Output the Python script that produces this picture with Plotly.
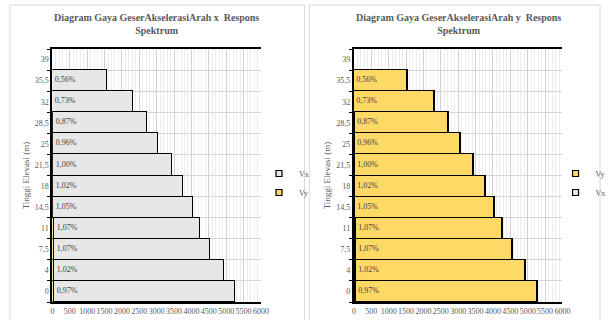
import plotly.graph_objects as go

# Storey elevations (m), bottom to top
elev = ["0", "4", "7,5", "11", "14,5", "18", "21,5", "25", "28,5", "32", "35,5", "39"]

# Response-spectrum storey shear (kN), x-direction earthquake
vx_dir_x = [5200, 4895, 4505, 4225, 4010, 3745, 3415, 3020, 2715, 2320, 1585, None]
vy_dir_x = [60, 55, 50, 45, 40, 35, 25, 20, 15, 10, 5, 0]

# Response-spectrum storey shear (kN), y-direction earthquake
vy_dir_y = [5240, 4905, 4530, 4245, 4020, 3755, 3415, 3050, 2715, 2320, 1560, None]
vx_dir_y = [60, 55, 50, 45, 40, 35, 25, 20, 15, 10, 5, 0]

# Storey drift ratio labels
ratio = ["0,97%", "1,02%", "1,07%", "1,07%", "1,05%", "1,02%",
         "1,00%", "0,96%", "0,87%", "0,73%", "0,56%", ""]

x_ticks = list(range(0, 6001, 500))

SERIF = "Liberation Serif"
GREY_TXT = "#595959"
GOLD = "#FFD966"
LIGHT = "#E7E7E7"
EDGE = dict(color="#000000", width=1.4)

fig = go.Figure()


def add_bar(x_vals, colour, xa, ya, labels=None):
    kw = {}
    if labels is not None:
        kw = dict(text=labels, textposition="inside", insidetextanchor="start",
                  constraintext="none", textangle=0,
                  textfont=dict(family=SERIF, size=8, color="#404040"))
    fig.add_trace(go.Bar(y=elev, x=x_vals, orientation="h", showlegend=False,
                         marker=dict(color=colour, line=EDGE),
                         xaxis=xa, yaxis=ya, hoverinfo="skip", **kw))


def add_key(name, colour, xa, ya, legend):
    # small square legend key, no data of its own
    fig.add_trace(go.Scatter(x=[None], y=[None], mode="markers", name=name,
                             marker=dict(symbol="square", size=6, color=colour,
                                         line=dict(color="#000000", width=1.2)),
                             xaxis=xa, yaxis=ya, legend=legend, hoverinfo="skip"))


# Left chart: x-direction
add_bar(vy_dir_x, GOLD, "x", "y")
add_bar(vx_dir_x, LIGHT, "x", "y", ratio)
add_key("Vx", LIGHT, "x", "y", "legend")
add_key("Vy", GOLD, "x", "y", "legend")

# Right chart: y-direction
add_bar(vx_dir_y, LIGHT, "x2", "y2")
add_bar(vy_dir_y, GOLD, "x2", "y2", ratio)
add_key("Vy", GOLD, "x2", "y2", "legend2")
add_key("Vx", LIGHT, "x2", "y2", "legend2")

W, H = 611, 320


def px_x(p):
    return p / W


def px_y(p):
    return 1 - p / H


xaxis_style = dict(
    range=[0, 6000], tickvals=x_ticks, tickangle=0, automargin=False,
    showgrid=True, gridcolor="#D0D0D0", gridwidth=1,
    minor=dict(dtick=100, showgrid=True, gridcolor="#EDEDED", gridwidth=1),
    showline=True, linecolor="#000000", linewidth=2, mirror=True,
    ticks="", zeroline=False,
    tickfont=dict(family=SERIF, size=8, color=GREY_TXT),
    fixedrange=True,
)
yaxis_style = dict(
    type="category", tickson="boundaries", automargin=False,
    showgrid=True, gridcolor="#D6D6D6",
    showline=True, linecolor="#000000", linewidth=2,
    ticks="outside", ticklen=3, tickcolor="#000000",
    tickfont=dict(family=SERIF, size=8, color=GREY_TXT),
    title=dict(text="Tinggi Elevasi (m)", font=dict(family=SERIF, size=9, color=GREY_TXT),
               standoff=4),
    fixedrange=True,
)

dom_y = [px_y(302), px_y(49)]
legend_font = dict(family=SERIF, size=8, color=GREY_TXT)

fig.update_layout(
    width=W, height=H, margin=dict(l=0, r=0, t=0, b=0),
    paper_bgcolor="white", plot_bgcolor="white",
    barmode="stack", bargap=0,
    xaxis=dict(domain=[px_x(53), px_x(264)], anchor="y", **xaxis_style),
    yaxis=dict(domain=dom_y, anchor="x", **yaxis_style),
    xaxis2=dict(domain=[px_x(358), px_x(569)], anchor="y2", **xaxis_style),
    yaxis2=dict(domain=dom_y, anchor="x2", **yaxis_style),
    legend=dict(x=px_x(262), y=px_y(183), xanchor="left", yanchor="middle",
                traceorder="normal", font=legend_font, bgcolor="rgba(0,0,0,0)",
                itemwidth=30, tracegroupgap=0),
    legend2=dict(x=px_x(562), y=px_y(183), xanchor="left", yanchor="middle",
                 traceorder="normal", font=legend_font, bgcolor="rgba(0,0,0,0)",
                 itemwidth=30, tracegroupgap=0),
    showlegend=True,
)

# Chart titles
for ref, axis_dir in (("x", "x"), ("x2", "y")):
    fig.add_annotation(
        xref=f"{ref} domain", yref="paper", x=0.5, y=px_y(24), xanchor="center", yanchor="middle",
        text=f"<b>Diagram Gaya GeserAkselerasiArah {axis_dir}  Respons<br>Spektrum</b>",
        showarrow=False, align="center",
        font=dict(family=SERIF, size=10, color=GREY_TXT),
    )

# Chart-area frames
for x0, x1 in ((10, 308), (313, 607)):
    fig.add_shape(type="rect", xref="paper", yref="paper",
                  x0=px_x(x0), x1=px_x(x1), y0=-0.05, y1=px_y(5),
                  line=dict(color="#D9D9D9", width=1), fillcolor="rgba(0,0,0,0)", layer="below")

fig.write_html("out.html")
